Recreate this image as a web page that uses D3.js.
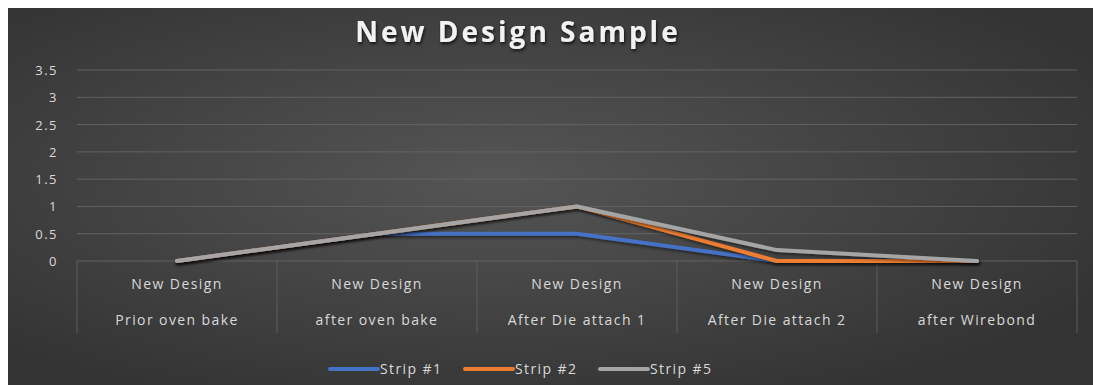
<!DOCTYPE html>
<html>
<head>
<meta charset="utf-8">
<script src="https://cdn.jsdelivr.net/npm/d3@7"></script>
<style>
  body { margin: 0; background: #fff; }
  svg { display: block; }
</style>
</head>
<body>
<div id="chart"></div>
<script>
const categories = [
  ["New Design", "Prior oven bake"],
  ["New Design", "after oven bake"],
  ["New Design", "After Die attach 1"],
  ["New Design", "After Die attach 2"],
  ["New Design", "after Wirebond"]
];
const seriesNames = ["Strip #1", "Strip #2", "Strip #5"];
const seriesColors = ["#4472c4", "#ed7d31", "#a5a5a5"];
const strip1 = [0, 0.5, 0.5, 0, 0];
const strip2 = [0, 0.5, 1, 0, 0];
const strip5 = [0, 0.5, 1, 0.2, 0];
const yTicks = [0, 0.5, 1, 1.5, 2, 2.5, 3, 3.5];

const W = 1093, H = 385;
const margin = {left: 77, right: 16, top: 70, bottom: 124};
const font = "Open Sans, sans-serif";

const svg = d3.select("#chart").append("svg")
  .attr("width", W)
  .attr("height", H);

const defs = svg.append("defs");
const grad = defs.append("radialGradient")
  .attr("id", "bg")
  .attr("cx", "45%").attr("cy", "45%").attr("r", "65%");
grad.append("stop").attr("offset", "0%").attr("stop-color", "#555555");
grad.append("stop").attr("offset", "100%").attr("stop-color", "#333333");

const shadow = defs.append("filter").attr("id", "shadow")
  .attr("x", "-10%").attr("y", "-30%").attr("width", "120%").attr("height", "160%");
shadow.append("feDropShadow")
  .attr("dx", 1).attr("dy", 2).attr("stdDeviation", 1.5)
  .attr("flood-color", "#000").attr("flood-opacity", 0.7);

const lineShadow = defs.append("filter").attr("id", "lshadow")
  .attr("x", "-10%").attr("y", "-30%").attr("width", "120%").attr("height", "160%");
lineShadow.append("feDropShadow")
  .attr("dx", 1).attr("dy", 2).attr("stdDeviation", 1.5)
  .attr("flood-color", "#000").attr("flood-opacity", 0.5);

svg.append("rect")
  .attr("x", 8).attr("y", 8)
  .attr("width", W - 8).attr("height", H - 8)
  .attr("fill", "url(#bg)");

svg.append("text")
  .attr("x", 518).attr("y", 42)
  .attr("text-anchor", "middle")
  .attr("font-family", font)
  .attr("font-weight", "bold")
  .attr("font-size", 28)
  .attr("letter-spacing", 3)
  .attr("fill", "#f2f2f2")
  .attr("filter", "url(#shadow)")
  .text("New Design Sample");

const x = d3.scaleBand()
  .domain(d3.range(categories.length))
  .range([margin.left, W - margin.right]);

const y = d3.scaleLinear()
  .domain([0, 3.5])
  .range([H - margin.bottom, margin.top]);

// gridlines
svg.append("g")
  .selectAll("line")
  .data(yTicks.filter(d => d > 0))
  .join("line")
  .attr("x1", margin.left).attr("x2", W - margin.right)
  .attr("y1", d => y(d)).attr("y2", d => y(d))
  .attr("stroke", "#626262")
  .attr("stroke-width", 1);

// y labels
svg.append("g")
  .selectAll("text")
  .data(yTicks)
  .join("text")
  .attr("x", 58)
  .attr("y", d => y(d) + 5)
  .attr("text-anchor", "end")
  .attr("font-family", font)
  .attr("font-size", 13)
  .attr("letter-spacing", 1.5)
  .attr("fill", "#d9d9d9")
  .text(d => d);

// category axis
svg.append("line")
  .attr("x1", margin.left).attr("x2", W - margin.right)
  .attr("y1", y(0)).attr("y2", y(0))
  .attr("stroke", "#626262");

const bounds = d3.range(categories.length + 1).map(i =>
  i < categories.length ? x(i) : x(i - 1) + x.bandwidth());
svg.append("g")
  .selectAll("line")
  .data(bounds)
  .join("line")
  .attr("x1", d => d).attr("x2", d => d)
  .attr("y1", y(0)).attr("y2", y(0) + 72)
  .attr("stroke", "#5c5c5c");

const catG = svg.append("g")
  .selectAll("text")
  .data(categories)
  .join("text")
  .attr("text-anchor", "middle")
  .attr("font-family", font)
  .attr("font-size", 14)
  .attr("letter-spacing", 1.4)
  .attr("fill", "#d9d9d9");
catG.append("tspan")
  .attr("x", (d, i) => x(i) + x.bandwidth() / 2)
  .attr("y", y(0) + 28)
  .text(d => d[0]);
catG.append("tspan")
  .attr("x", (d, i) => x(i) + x.bandwidth() / 2)
  .attr("y", y(0) + 64)
  .text(d => d[1]);

// lines
const series = [strip1, strip2, strip5];
const line = d3.line()
  .x((d, i) => x(i) + x.bandwidth() / 2)
  .y(d => y(d));

svg.append("g")
  .selectAll("path")
  .data(series)
  .join("path")
  .attr("d", d => line(d))
  .attr("fill", "none")
  .attr("stroke", (d, i) => seriesColors[i])
  .attr("stroke-width", 4)
  .attr("stroke-linejoin", "round")
  .attr("stroke-linecap", "round")
  .attr("filter", "url(#lshadow)");

// legend
const legendX = [330, 465, 600];
const lg = svg.append("g")
  .selectAll("g")
  .data(seriesNames)
  .join("g")
  .attr("transform", (d, i) => `translate(${legendX[i]},369)`);
lg.append("line")
  .attr("x1", 0).attr("x2", 48)
  .attr("stroke", (d, i) => seriesColors[i])
  .attr("stroke-width", 4)
  .attr("stroke-linecap", "round");
lg.append("text")
  .attr("x", 50).attr("y", 5)
  .attr("font-family", font)
  .attr("font-size", 14)
  .attr("letter-spacing", 1.4)
  .attr("fill", "#d9d9d9")
  .text(d => d);
</script>
</body>
</html>
